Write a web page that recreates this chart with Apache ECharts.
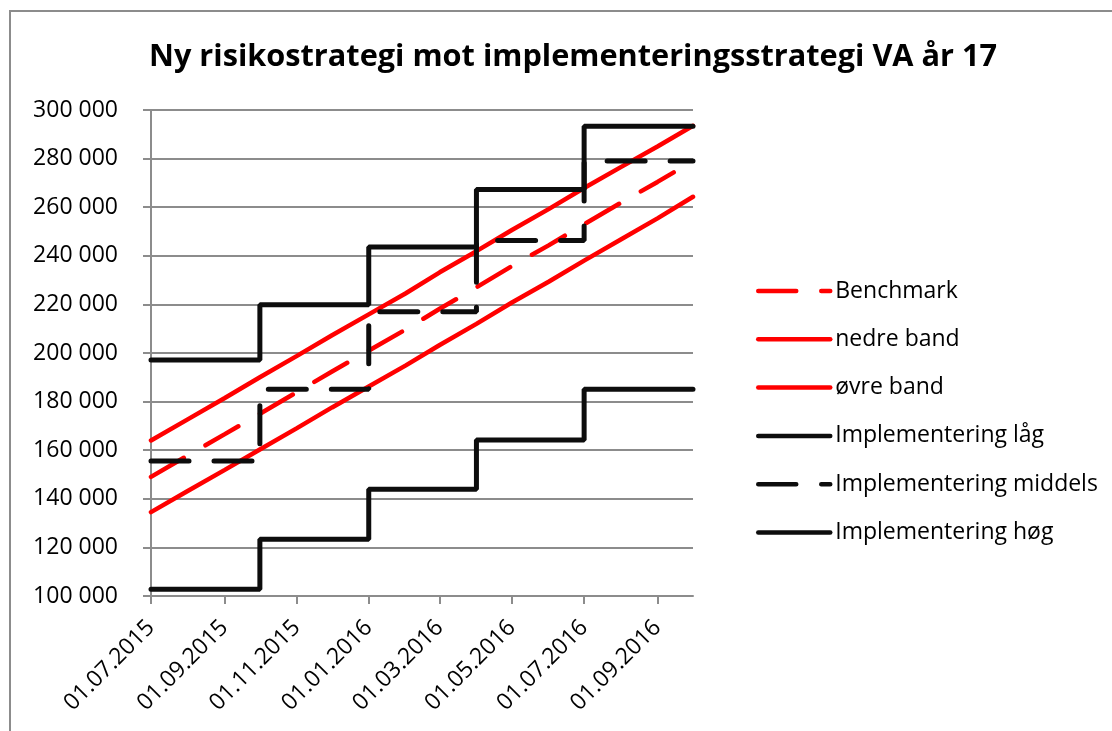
<!DOCTYPE html>
<html>
<head>
<meta charset="utf-8">
<script src="https://cdn.jsdelivr.net/npm/echarts@6/dist/echarts.min.js"></script>
<style>
  html, body { margin: 0; padding: 0; background: #fff; }
  #main { width: 1112px; height: 731px; }
</style>
</head>
<body>
<div id="main"></div>
<script>
// tick dates on the x axis
const tickDates = ['2015-07-01', '2015-09-01', '2015-11-01', '2016-01-01',
  '2016-03-01', '2016-05-01', '2016-07-01', '2016-09-01'];

// monthly points for the red lines
const months = ['2015-07-01', '2015-08-01', '2015-09-01', '2015-10-01', '2015-11-01',
  '2015-12-01', '2016-01-01', '2016-02-01', '2016-03-01', '2016-04-01', '2016-05-01',
  '2016-06-01', '2016-07-01', '2016-08-01', '2016-09-01', '2016-10-01'];
const benchmark = [149000, 157800, 166500, 175000, 183800, 192400, 201000, 209600,
  218200, 227000, 235800, 244300, 253000, 261800, 270400, 279000];
const nedreBand = [134500, 143200, 151800, 160300, 169000, 177600, 186200, 194800,
  203300, 212000, 220800, 229300, 238000, 246700, 255400, 264300];
const ovreBand = [164000, 172700, 181400, 190000, 198700, 207300, 215900, 224500,
  233200, 241900, 250600, 259200, 267900, 276500, 285000, 293500];

// quarterly step values
const quarters = ['2015-07-01', '2015-10-01', '2016-01-01', '2016-04-01', '2016-07-01', '2016-10-01'];
const implLag = [102800, 123400, 143900, 164200, 185100, 185100];
const implMiddels = [155600, 185100, 217000, 246300, 279000, 279000];
const implHog = [197100, 219900, 243600, 267300, 293300, 293300];

function toTime(s) {
  const p = s.split('-');
  return new Date(+p[0], +p[1] - 1, +p[2]).getTime();
}
function pairs(xs, ys) {
  return xs.map((x, i) => [toTime(x), ys[i]]);
}
function spaced(v) {
  return String(v).replace(/\B(?=(\d{3})+(?!\d))/g, ' ');
}

const FONT = 'Open Sans';
const RED = '#ff0000';
const BLACK = '#0d0d0d';
const GRAY = '#8c8c8c';
const dash = [38, 25];

const chart = echarts.init(document.getElementById('main'));

const option = {
  animation: false,
  textStyle: { fontFamily: FONT },
  graphic: [{
    type: 'rect',
    shape: { x: 10, y: 11, width: 1300, height: 900 },
    style: { fill: 'none', stroke: GRAY, lineWidth: 2 },
    silent: true
  }],
  title: {
    text: 'Ny risikostrategi mot implementeringsstrategi VA år 17',
    left: 568,
    top: 37,
    textAlign: 'center',
    textStyle: { fontFamily: FONT, fontSize: 30.7, fontWeight: 'bold', color: '#000' }
  },
  legend: {
    orient: 'vertical',
    left: 756,
    top: 278,
    padding: 0,
    itemWidth: 72,
    itemHeight: 14,
    itemGap: 22.3,
    itemStyle: { opacity: 0 },
    lineStyle: { width: 4.5 },
    textStyle: { fontFamily: FONT, fontSize: 23, color: '#000', lineHeight: 26 },
    data: ['Benchmark', 'nedre band', 'øvre band', 'Implementering låg',
      'Implementering middels', 'Implementering høg']
  },
  grid: { left: 151, top: 110, width: 542, height: 486 },
  xAxis: {
    type: 'time',
    min: toTime('2015-07-01'),
    max: toTime('2016-10-01'),
    axisLine: { lineStyle: { color: GRAY, width: 2 } },
    axisTick: { show: true, length: 8, lineStyle: { color: GRAY, width: 2 },
      customValues: tickDates.map(toTime) },
    axisLabel: {
      rotate: 45,
      margin: 28,
      fontSize: 23,
      color: '#000',
      fontFamily: FONT,
      customValues: tickDates.map(toTime),
      formatter: '{dd}.{MM}.{yyyy}'
    },
    splitLine: { show: false }
  },
  yAxis: {
    type: 'value',
    min: 100000,
    max: 300000,
    interval: 20000,
    axisLine: { show: true, lineStyle: { color: GRAY, width: 2 } },
    axisTick: { show: true, length: 8, lineStyle: { color: GRAY, width: 2 } },
    axisLabel: { margin: 33, fontSize: 23, color: '#000', fontFamily: FONT, formatter: spaced },
    splitLine: { lineStyle: { color: GRAY, width: 2 } }
  },
  series: [
    { name: 'Benchmark', type: 'line', symbol: 'none', data: pairs(months, benchmark),
      lineStyle: { color: RED, width: 4.5, type: dash, cap: 'round' }, itemStyle: { color: RED } },
    { name: 'nedre band', type: 'line', symbol: 'none', data: pairs(months, nedreBand),
      lineStyle: { color: RED, width: 4.5, cap: 'round' }, itemStyle: { color: RED } },
    { name: 'øvre band', type: 'line', symbol: 'none', data: pairs(months, ovreBand),
      lineStyle: { color: RED, width: 4.5, cap: 'round' }, itemStyle: { color: RED } },
    { name: 'Implementering låg', type: 'line', symbol: 'none', step: 'end',
      data: pairs(quarters, implLag),
      lineStyle: { color: BLACK, width: 5, cap: 'round' }, itemStyle: { color: BLACK } },
    { name: 'Implementering middels', type: 'line', symbol: 'none', step: 'end',
      data: pairs(quarters, implMiddels),
      lineStyle: { color: BLACK, width: 5, type: dash, cap: 'round' }, itemStyle: { color: BLACK } },
    { name: 'Implementering høg', type: 'line', symbol: 'none', step: 'end',
      data: pairs(quarters, implHog),
      lineStyle: { color: BLACK, width: 5, cap: 'round' }, itemStyle: { color: BLACK } }
  ]
};

chart.setOption(option);
</script>
</body>
</html>
